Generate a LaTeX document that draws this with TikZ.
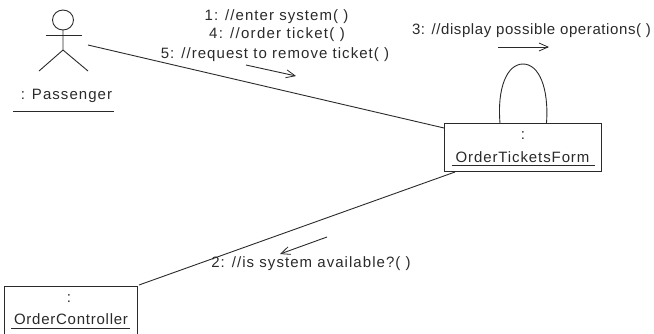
\documentclass[tikz,border=0pt]{standalone}
\usepackage{fontspec}
\setmainfont{Liberation Sans}
\usetikzlibrary{arrows.meta}
\definecolor{ink}{HTML}{2A2A2A}
\newcommand{\lsp}[1]{\addfontfeature{LetterSpace=#1}}
\tikzset{
  x=1pt,y=-1pt,
  line/.style={draw=ink,line width=0.9pt},
  lbl/.style={inner sep=0pt,text=ink,font=\fontsize{15}{15}\selectfont,anchor=center},
  obj/.style={draw=ink,line width=0.9pt,fill=white,minimum width=0pt,inner sep=0pt},
  msg/.style={line,-{Straight Barb[length=9pt,width=8pt,line width=0.8pt]}}
}
\begin{document}
\begin{tikzpicture}
\useasboundingbox (0,0) rectangle (654,333);
% objects
\clip (0,0) rectangle (654,333);
\node[obj,minimum width=157pt,minimum height=48pt] (form) at (523,147) {};
\node[obj,minimum width=133pt,minimum height=60pt] (ctrl) at (70.5,316) {};
\coordinate (pass) at (88,45);
% actor
\draw[line] (63,20) ellipse [x radius=10.5, y radius=10];
\draw[line] (46,35) -- (82,35);
\draw[line] (63,30) -- (63,50) -- (39,71);
\draw[line] (63,50) -- (88,71);
\node[lbl] (passlbl) at (66.5,96) {\lsp{7}: Passenger};
\draw[line] (13,111) -- (114,111);
% object labels
\node[lbl] (formc) at (523,136) {:};
\node[lbl] (formt) at (522.5,157) {\lsp{6}OrderTicketsForm};
\draw[line] (452,165) -- (595,165);
\node[lbl] (ctrlc) at (69,299) {:};
\node[lbl] (ctrlt) at (71,319) {\lsp{5}OrderController};
\draw[line] (11,328) -- (130,328);
% links
\coordinate (fa) at (form.west |- 0,128);
\draw[line] (pass) -- (fa);
\coordinate (fb) at (455,172);
\coordinate (cb) at (139,285);
\draw[line] (fb) -- (cb);
\coordinate (la) at (500,123);
\coordinate (lb) at (546.5,123);
\draw[line] (la) .. controls (497,88) and (507,64) .. (523,64) .. controls (539,64) and (549,88) .. (lb);
% messages
\node[lbl] (m1) at (276.5,16.5) {\lsp{7}1: //enter system( )};
\node[lbl] (m4) at (277,35) {\lsp{8.5}4: //order ticket( )};
\node[lbl] (m5) at (275,55) {\lsp{7}5: //request to remove ticket( )};
\node[lbl] (m3) at (531.5,31) {\lsp{4}3: //display possible operations( )};
\node[lbl] (m2) at (311,264) {\lsp{7}2: //is system available?( )};
\coordinate (a1s) at (246,65); \coordinate (a1e) at (296,76);
\coordinate (a3s) at (498,47); \coordinate (a3e) at (549,47);
\coordinate (a2s) at (327,237); \coordinate (a2e) at (280,254);
\draw[msg] (a1s) -- (a1e);
\draw[msg] (a3s) -- (a3e);
\draw[msg] (a2s) -- (a2e);
\end{tikzpicture}
\end{document}
